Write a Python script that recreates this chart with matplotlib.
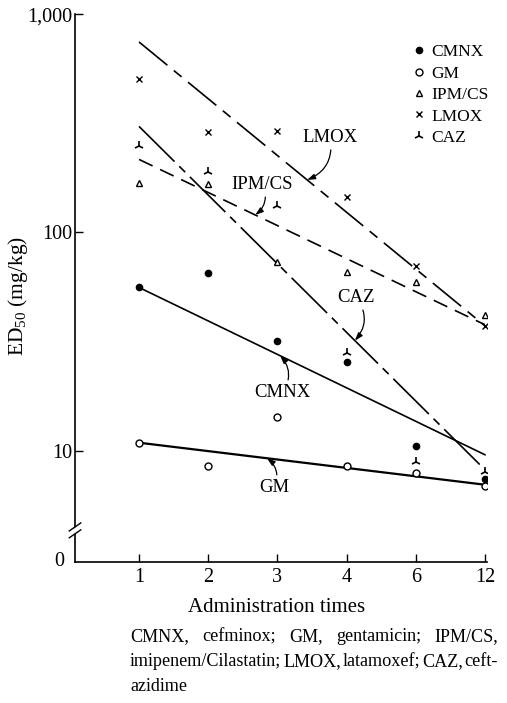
import numpy as np
import matplotlib
matplotlib.use('Agg')
import matplotlib.pyplot as plt
from matplotlib.lines import Line2D
import matplotlib.transforms as mtransforms

plt.rcParams['font.family'] = ['Liberation Serif', 'DejaVu Serif']
plt.rcParams['mathtext.fontset'] = 'custom'
plt.rcParams['mathtext.rm'] = 'Liberation Serif'
plt.rcParams['mathtext.it'] = 'Liberation Serif:italic'

# administration times, evenly spaced categories
times = ['1', '2', '3', '4', '6', '12']

# ED50 (mg/kg)
cmnx = [56, 65, 32, 25.5, 10.5, 7.4]
gm = [10.9, 8.5, 14.3, 8.5, 7.9, 6.9]
ipm_cs = [168, 166, 73, 66, 59.5, 42]
lmox = [505, 288, 290, 146, 70, 37.5]
caz = [248, 190, 132, 28, 8.9, 8.0]

# regression lines: value at first and last administration time
cmnx_fit = [56, 9.6]
gm_fit = [10.9, 7.0]
ipm_cs_fit = [216, 37.8]
lmox_fit = [745, 37.4]
caz_fit = [306, 8.2]

names = ['CMNX', 'GM', 'IPM/CS', 'LMOX', 'CAZ']

fig = plt.figure(figsize=(5.07, 7.03), dpi=100)
ax = fig.add_axes([0.148, 0.2006, 0.8126, 0.7794])
xs = np.arange(1, len(times) + 1)
ends = xs[[0, -1]]

ax.set_yscale('log')
ax.set_ylim(3.1, 1000)
ax.set_xlim(0.075, 6.03)

# fitted lines
ax.plot(ends, cmnx_fit, color='black', lw=1.2)
ax.plot(ends, gm_fit, color='black', lw=1.6)
ax.plot(ends, ipm_cs_fit, color='black', lw=1.2, dashes=(9, 5))
ax.plot(ends, lmox_fit, color='black', lw=1.2, dashes=(22, 5, 6, 5))
ax.plot(ends, caz_fit, color='black', lw=1.2, dashes=(30, 4, 5, 4))

# data points
styles = {
    'CMNX': dict(marker='o', ms=4.5, mfc='black', mec='black'),
    'GM': dict(marker='o', ms=5, mfc='white', mec='black', mew=1.0),
    'IPM/CS': dict(marker='^', ms=4, mfc='white', mec='black', mew=1.0),
    'LMOX': dict(marker='x', ms=4, mec='black', mew=1.0),
    'CAZ': dict(marker='2', ms=7, mec='black', mew=1.2),
}
series = [cmnx, gm, ipm_cs, lmox, caz]
for name, vals in zip(names, series):
    ax.plot(xs, vals, ls='none', zorder=3, **styles[name])

# labels with small curved arrows onto the fitted lines
def on_line(fit, x):
    t = (x - ends[0]) / (ends[1] - ends[0])
    return fit[0] * (fit[1] / fit[0]) ** t

notes = [
    ('LMOX', lmox_fit, 3.43, (3.76, 273), -0.4),
    ('IPM/CS', ipm_cs_fit, 2.68, (2.78, 166), -0.4),
    ('CAZ', caz_fit, 4.12, (4.14, 50.4), -0.4),
    ('CMNX', cmnx_fit, 3.04, (3.07, 18.5), 0.4),
    ('GM', gm_fit, 2.85, (2.95, 6.8), 0.4),
]
for label, fit, tx, pos, rad in notes:
    ax.annotate(label, xy=(tx, on_line(fit, tx)), xytext=pos,
                ha='center', va='center', fontsize=13.5,
                arrowprops=dict(arrowstyle='-|>,head_length=0.35,head_width=0.12',
                                connectionstyle='arc3,rad=%s' % rad,
                                color='black', lw=0.9, shrinkA=1, shrinkB=0))

# axes cosmetics
ax.spines['top'].set_visible(False)
ax.spines['right'].set_visible(False)
for s in ('left', 'bottom'):
    ax.spines[s].set_linewidth(1.2)
ax.set_xticks(xs)
ax.set_xticklabels(times)
ax.set_yticks([10, 100, 1000])
ax.set_yticklabels(['10', '100', '1,000'])
ax.yaxis.set_minor_locator(matplotlib.ticker.NullLocator())
ax.tick_params(direction='in', length=6, width=1, labelsize=14.5)
ax.tick_params(axis='y', pad=2)
ax.tick_params(axis='x', pad=4)
ax.text(-0.025, 0, '0', transform=ax.transAxes, ha='right', va='center', fontsize=14.5)

# axis break on the y axis
tr = mtransforms.blended_transform_factory(ax.transAxes, ax.transData)
ax.fill_between([-0.01, 0.01], [4.12, 4.4], [4.3, 4.6], color='white',
                transform=tr, clip_on=False, zorder=4)
ax.plot([-0.014, 0.014], [4.0, 4.35], color='black', lw=1.0, transform=tr,
        clip_on=False, zorder=5)
ax.plot([-0.014, 0.014], [4.3, 4.68], color='black', lw=1.0, transform=tr,
        clip_on=False, zorder=5)

# legend
handles = [Line2D([], [], ls='none', **styles[n]) for n in names]
ax.legend(handles, names, loc='upper left', bbox_to_anchor=(0.817, 0.937),
          bbox_transform=fig.transFigure, frameon=False, handlelength=0.6,
          handletextpad=0.4, labelspacing=0.3, borderpad=0, borderaxespad=0,
          fontsize=12.5)

fig.text(0.036, 1 - 296 / 703, 'ED$_{50}$ (mg/kg)', rotation=90,
         ha='center', va='center', fontsize=15.5)
fig.text(277 / 507, 1 - 607 / 703, 'Administration times', ha='center',
         va='center', fontsize=15)

# caption, justified like the printed text
def justified(words, y, x0, x1, size=13.1):
    r = fig.canvas.get_renderer()
    items = [fig.text(0, y, w, va='baseline', fontsize=size) for w in words]
    widths = [t.get_window_extent(r).width / fig.bbox.width for t in items]
    gap = (x1 - x0 - sum(widths)) / (len(words) - 1)
    x = x0
    for t, w in zip(items, widths):
        t.set_x(x)
        x += w + gap

left, right = 130 / 507, 498 / 507
justified('CMNX, cefminox; GM, gentamicin; IPM/CS,'.split(), 1 - 641 / 703, left, right)
justified('imipenem/Cilastatin; LMOX, latamoxef; CAZ, ceft-'.split(), 1 - 666 / 703, left, right)
fig.text(left, 1 - 691 / 703, 'azidime', va='baseline', fontsize=13.1)

fig.savefig('out.png', dpi=100)
